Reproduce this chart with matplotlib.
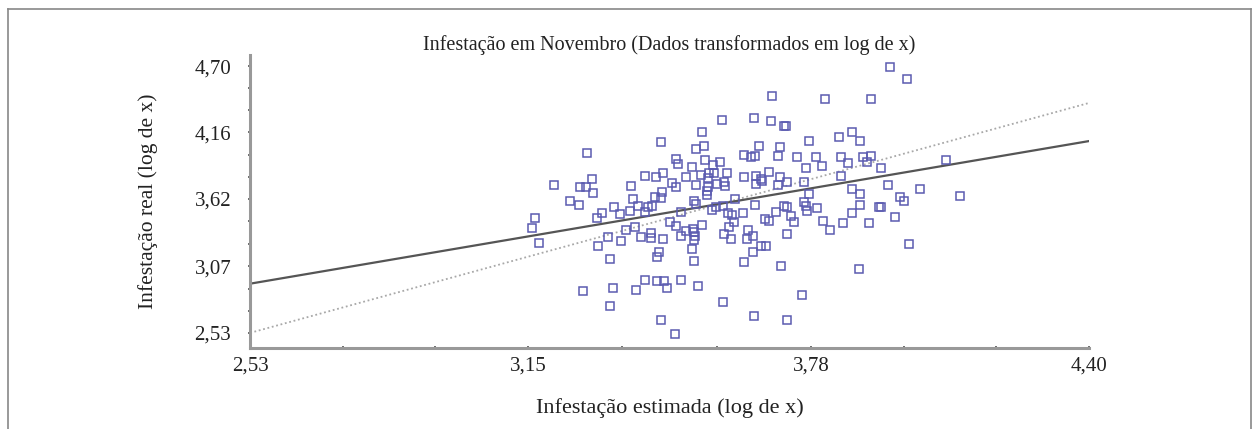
import numpy as np
import matplotlib
matplotlib.use("Agg")
import matplotlib.pyplot as plt
from matplotlib.lines import Line2D

plt.rcParams['font.family'] = ['Liberation Serif', 'DejaVu Serif']

# estimated vs real infestation (log of x)
est = [3.281, 3.208, 3.265, 3.279, 3.292, 3.294, 3.243, 3.263, 3.165, 3.158,
       3.174, 3.303, 3.306, 3.272, 3.315, 3.446, 3.479, 3.484, 3.410, 3.435,
       3.450, 3.502, 3.379, 3.470, 3.479, 3.448, 3.433, 3.446, 3.384, 3.341,
       3.355, 3.377, 3.395, 3.417, 3.410, 3.491, 3.466, 3.479, 3.388, 3.368,
       3.328, 3.357, 3.401, 3.424, 3.424, 3.450, 3.491, 3.502, 3.442, 3.437,
       3.332, 3.410, 3.437, 3.453, 3.459, 3.491, 3.339, 3.390, 3.332, 3.446,
       3.477, 3.693, 3.582, 3.653, 3.691, 3.720, 3.537, 3.524, 3.542, 3.631,
       3.647, 3.655, 3.664, 3.711, 3.707, 3.544, 3.562, 3.577, 3.515, 3.535,
       3.553, 3.564, 3.551, 3.593, 3.631, 3.658, 3.669, 3.687, 3.711, 3.524,
       3.551, 3.571, 3.586, 3.589, 3.707, 3.549, 3.520, 3.524, 3.611, 3.655,
       3.720, 3.560, 3.569, 3.584, 3.595, 3.604, 3.609, 3.629, 3.702, 3.678,
       3.687, 3.537, 3.517, 3.520, 3.598, 3.586, 3.602, 3.640, 3.651, 3.638,
       3.669, 3.680, 3.520, 3.515, 3.651, 3.631, 3.520, 3.713, 3.528, 3.584,
       3.653, 3.727, 3.811, 3.914, 3.725, 3.776, 3.843, 3.872, 3.889, 3.749,
       3.791, 3.805, 3.847, 3.863, 3.896, 3.914, 3.905, 3.769, 3.847, 3.727,
       3.765, 3.776, 3.872, 3.889, 3.765, 3.769, 3.771, 3.794, 3.727, 3.889,
       3.736, 3.742, 3.807, 3.823, 3.852, 3.872, 3.910, 3.727, 3.932, 3.887,
       3.760, 3.956, 3.994, 4.081, 3.936, 3.952, 4.023, 4.112, 3.979, 3.988,
       3.936, 3.967, 3.999, 3.658, 3.671, 3.426, 3.549, 3.522]
real = [3.996, 3.734, 3.717, 3.717, 3.783, 3.668, 3.603, 3.570, 3.464, 3.382,
        3.259, 3.464, 3.234, 2.874, 3.505, 4.086, 3.947, 3.906, 3.808, 3.799,
        3.832, 3.799, 3.726, 3.750, 3.717, 3.676, 3.636, 3.627, 3.619, 3.554,
        3.496, 3.521, 3.562, 3.554, 3.513, 3.513, 3.431, 3.398, 3.390, 3.365,
        3.308, 3.275, 3.308, 3.341, 3.300, 3.292, 3.316, 3.357, 3.185, 3.144,
        3.128, 2.964, 2.956, 2.956, 2.899, 2.964, 2.899, 2.882, 2.751, 2.636,
        2.522, 4.455, 4.258, 4.274, 4.250, 4.209, 4.160, 4.029, 4.053, 3.980,
        3.963, 3.971, 4.053, 4.045, 3.971, 3.939, 3.898, 3.922, 3.881, 3.816,
        3.832, 3.832, 3.791, 3.832, 3.799, 3.808, 3.783, 3.840, 3.799, 3.734,
        3.717, 3.742, 3.758, 3.726, 3.734, 3.652, 3.603, 3.578, 3.619, 3.570,
        3.562, 3.529, 3.554, 3.562, 3.505, 3.488, 3.431, 3.505, 3.513, 3.455,
        3.439, 3.406, 3.374, 3.349, 3.390, 3.333, 3.292, 3.365, 3.316, 3.292,
        3.234, 3.234, 3.284, 3.210, 3.185, 3.103, 3.111, 3.071, 2.915, 2.784,
        2.669, 2.636, 4.430, 4.430, 4.209, 4.094, 4.127, 4.160, 4.094, 3.963,
        3.963, 3.890, 3.963, 3.914, 3.963, 3.971, 3.922, 3.873, 3.808, 3.758,
        3.758, 3.660, 3.701, 3.660, 3.595, 3.562, 3.521, 3.546, 3.554, 3.570,
        3.480, 3.431, 3.439, 3.365, 3.423, 3.505, 3.423, 3.333, 3.554, 3.046,
        2.841, 4.692, 4.594, 3.939, 3.873, 3.734, 3.701, 3.644, 3.636, 3.603,
        3.554, 3.472, 3.251, 3.742, 3.766, 3.562, 3.684, 3.316]

# regression line and 1:1 reference line
fit_x = [2.53, 4.40]
fit_y = [2.93, 4.09]
ref_x = [2.53, 4.40]
ref_y = [2.53, 4.40]

x_ticks = [2.53, 3.15, 3.78, 4.40]
y_ticks = [2.53, 3.07, 3.62, 4.16, 4.70]


def thirds(ticks):
    out = []
    for a, b in zip(ticks[:-1], ticks[1:]):
        out += [a + (b - a) / 3, a + 2 * (b - a) / 3]
    return out


fig = plt.figure(figsize=(12.59, 4.29), dpi=100)
ax = fig.add_axes([0.1986, 0.1888, 0.6664, 0.683])

ax.plot(ref_x, ref_y, linestyle=(0, (1, 1.5)), color='#a8a8a8', lw=1.3, zorder=2)
ax.plot(fit_x, fit_y, color='#555555', lw=1.6, zorder=2)
ax.plot(est, real, linestyle='none', marker='s', markersize=6,
        markerfacecolor='none', markeredgecolor='#5b5bb0', markeredgewidth=1.1, zorder=3)

ax.set_xlim(2.53, 4.40)
ax.set_ylim(2.407, 4.79)

ax.set_xticks(x_ticks)
ax.set_xticklabels([f"{t:.2f}".replace('.', ',') for t in x_ticks])
ax.set_yticks(y_ticks)
ax.set_yticklabels([f"{t:.2f}".replace('.', ',') for t in y_ticks])
ax.set_xticks(thirds(x_ticks), minor=True)
ax.set_yticks(thirds(y_ticks), minor=True)

ax.tick_params(which='both', direction='inout', length=3, width=1.2, color='#555555',
               labelsize=15, labelcolor='#222222')
ax.tick_params(axis='x', pad=5)
ax.tick_params(axis='y', pad=12)

for side in ['top', 'right']:
    ax.spines[side].set_visible(False)
for side in ['left', 'bottom']:
    ax.spines[side].set_color('#999999')
    ax.spines[side].set_linewidth(2.2)

ax.set_title("Infestação em Novembro (Dados transformados em log de x)",
             fontsize=14.5, color='#222222', pad=3)
ax.set_xlabel("Infestação estimada (log de x)", fontsize=16, color='#222222', labelpad=16)
ax.set_ylabel("Infestação real (log de x)", fontsize=15.5, color='#222222', labelpad=26)

# thin frame round the whole picture (bottom edge falls outside the image)
for xs, ys in [([8, 8], [0, 420]), ([8, 1251], [420, 420]), ([1251, 1251], [420, 0])]:
    fig.add_artist(Line2D([v / 1259 for v in xs], [v / 429 for v in ys],
                          color='#888888', lw=1.2))

fig.savefig("out.png", dpi=100)
